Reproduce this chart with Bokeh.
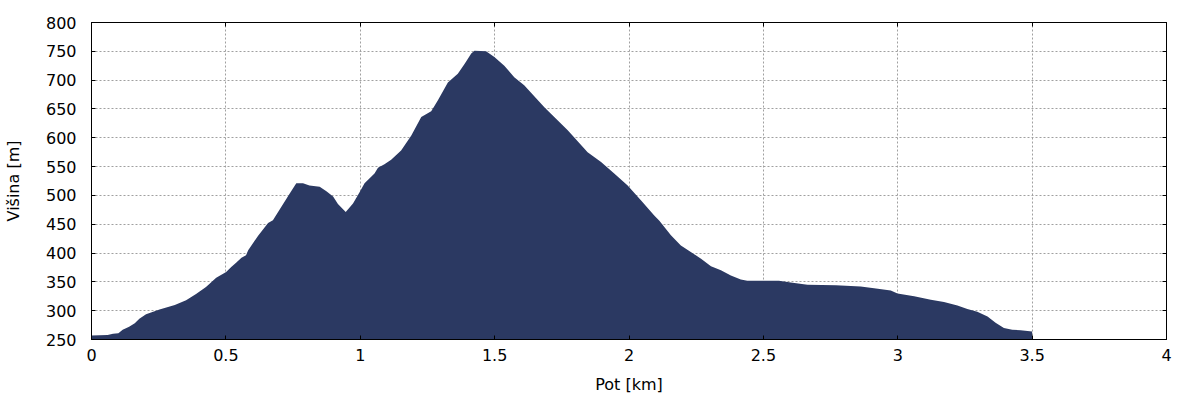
from bokeh.plotting import figure
from bokeh.models import LinearAxis, FixedTicker, Range1d
from bokeh.embed import file_html
from bokeh.resources import INLINE

dist = [0, 0.06, 0.08, 0.10, 0.116, 0.14, 0.161, 0.178, 0.203, 0.253, 0.31, 0.352, 0.389,
        0.426, 0.464, 0.501, 0.52, 0.538, 0.558, 0.575, 0.583, 0.62, 0.657, 0.675, 0.706,
        0.737, 0.762, 0.787, 0.811, 0.849, 0.874, 0.899, 0.917, 0.946, 0.973, 0.998, 1.016,
        1.053, 1.066, 1.09, 1.115, 1.152, 1.19, 1.227, 1.264, 1.289, 1.326, 1.363, 1.388,
        1.413, 1.425, 1.468, 1.499, 1.536, 1.573, 1.61, 1.685, 1.772, 1.846, 1.896, 1.945,
        1.995, 2.045, 2.094, 2.113, 2.156, 2.193, 2.23, 2.268, 2.305, 2.342, 2.379, 2.416,
        2.44, 2.558, 2.602, 2.664, 2.77, 2.862, 2.912, 2.974, 2.999, 3.061, 3.123, 3.172,
        3.222, 3.259, 3.296, 3.334, 3.364, 3.395, 3.426, 3.457, 3.5]
elev = [257, 258, 260, 261, 267, 272, 278, 286, 294, 302, 310, 318, 329,
        341, 357, 367, 376, 383, 392, 396, 405, 430, 452, 457, 480,
        503, 521, 521, 517, 515, 507, 498, 485, 471, 486, 506, 521,
        538, 548, 554, 562, 578, 604, 636, 646, 665, 696, 711, 728,
        746, 751, 750, 740, 725, 705, 691, 653, 613, 575, 558, 538,
        517, 491, 465, 456, 431, 413, 402, 390, 377, 370, 361, 354,
        352, 352, 349, 345, 344, 342, 339, 335, 330, 325, 319, 315,
        309, 303, 298, 290, 279, 270, 267, 266, 264]

x_ticks = [0, 0.5, 1, 1.5, 2, 2.5, 3, 3.5, 4]
x_tick_labels = ["0", "0.5", "1", "1.5", "2", "2.5", "3", "3.5", "4"]
y_ticks = [250, 300, 350, 400, 450, 500, 550, 600, 650, 700, 750, 800]
x_label = "Pot [km]"
y_label = "Višina [m]"

FONT = "DejaVu Sans"

p = figure(width=1200, height=400, output_backend="svg", toolbar_location=None,
           x_range=Range1d(0, 4), y_range=Range1d(250, 800),
           min_border_left=90, min_border_top=22, min_border_right=34, min_border_bottom=61)

p.varea(x=dist, y1=250, y2=elev, fill_color="#2b3962")

p.outline_line_color = "black"
p.outline_line_alpha = 1
p.outline_line_width = 1
p.background_fill_color = "white"

for ax in (p.xaxis[0], p.yaxis[0]):
    ax.major_tick_in = 4
    ax.major_tick_out = 0
    ax.minor_tick_in = 0
    ax.minor_tick_out = 0
    ax.axis_line_color = "black"
    ax.major_label_text_font = FONT
    ax.major_label_text_font_size = "16px"
    ax.major_label_text_color = "black"
    ax.axis_label_text_font = FONT
    ax.axis_label_text_font_size = "16px"
    ax.axis_label_text_font_style = "normal"
    ax.axis_label_text_color = "black"

p.xaxis.ticker = FixedTicker(ticks=x_ticks)
p.xaxis.major_label_overrides = {t: l for t, l in zip(x_ticks, x_tick_labels)}
p.yaxis.ticker = FixedTicker(ticks=y_ticks)
p.xaxis.axis_label = x_label
p.yaxis.axis_label = y_label
p.xaxis.major_label_standoff = 9
p.xaxis.axis_label_standoff = 11
p.yaxis.major_label_standoff = 15
p.yaxis.axis_label_standoff = 20

ra = LinearAxis(ticker=FixedTicker(ticks=y_ticks), major_label_text_font_size="0px",
                major_tick_in=4, major_tick_out=0, minor_tick_in=0, minor_tick_out=0,
                axis_line_color="black")
ra.major_label_text_alpha = 0
p.add_layout(ra, "right")
ta = LinearAxis(ticker=FixedTicker(ticks=x_ticks), major_label_text_font_size="0px",
                major_tick_in=4, major_tick_out=0, minor_tick_in=0, minor_tick_out=0,
                axis_line_color="black")
ta.major_label_text_alpha = 0
p.add_layout(ta, "above")

for g in (p.xgrid[0], p.ygrid[0]):
    g.grid_line_color = "#a0a0a0"
    g.grid_line_dash = "2 2"
    g.grid_line_width = 1
p.xgrid.ticker = FixedTicker(ticks=x_ticks)
p.ygrid.ticker = FixedTicker(ticks=y_ticks)

open("out.html", "w").write(file_html(p, INLINE))
